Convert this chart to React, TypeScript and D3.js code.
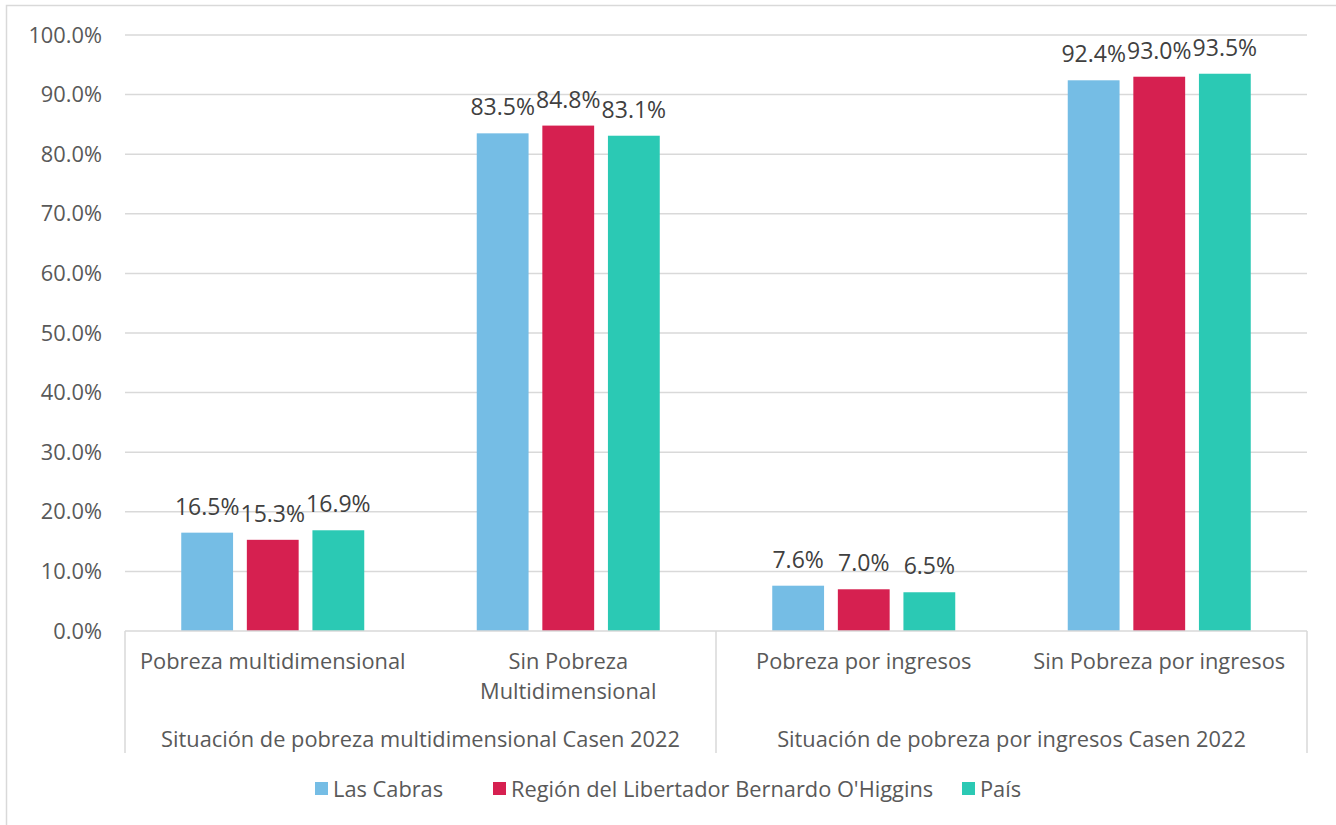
import React from "react";
import * as d3 from "d3";

const categories = [
  ["Pobreza multidimensional"],
  ["Sin Pobreza", "Multidimensional"],
  ["Pobreza por ingresos"],
  ["Sin Pobreza por ingresos"],
];
const groups = [
  "Situación de pobreza multidimensional Casen 2022",
  "Situación de pobreza por ingresos Casen 2022",
];
const seriesNames = ["Las Cabras", "Región del Libertador Bernardo O'Higgins", "País"];
const lasCabras = [16.5, 83.5, 7.6, 92.4];
const region = [15.3, 84.8, 7.0, 93.0];
const pais = [16.9, 83.1, 6.5, 93.5];
const yTicks = [0, 10, 20, 30, 40, 50, 60, 70, 80, 90, 100];
const colors = ["#75BDE5", "#D62050", "#2BC9B4"];

export default function App() {
  const W = 1336, H = 825;
  const left = 125, right = 1307, top = 35, bottom = 631;
  const font = "'Open Sans', 'Noto Sans', sans-serif";
  const textColor = "#595959";
  const series = [lasCabras, region, pais];
  const y = d3.scaleLinear().domain([0, 100]).range([bottom, top]);
  const x0 = d3.scaleBand().domain(categories.map((_, i) => String(i))).range([left, right]).paddingInner(0).paddingOuter(0);
  const bw = x0.bandwidth();
  const groupInner = 183;
  const x1 = d3.scaleBand().domain(["0", "1", "2"]).range([0, groupInner]).paddingInner(0.21).paddingOuter(0);
  const fs = 21.8;

  const legendItems = [
    { sx: 315, tx: 333 },
    { sx: 493, tx: 511 },
    { sx: 962, tx: 980 },
  ];

  return (
    <svg width={W} height={H} style={{ position: "absolute", left: 0, top: 0, background: "#fff" }} fontFamily={font}>
      <rect x={6.5} y={5.5} width={1340} height={840} fill="#fff" stroke="#D9D9D9" strokeWidth={1.5} />
      {yTicks.map((t) => (
        <g key={t}>
          {t > 0 && <line x1={left} x2={right} y1={y(t)} y2={y(t)} stroke="#D9D9D9" strokeWidth={1.5} />}
          <text x={102} y={y(t)} dy="0.35em" textAnchor="end" fontSize={fs} fill={textColor}>
            {t.toFixed(1)}%
          </text>
        </g>
      ))}
      {categories.map((c, ci) => {
        const cx = (x0(String(ci)) as number) + bw / 2;
        const gx = cx - groupInner / 2;
        return (
          <g key={ci}>
            {series.map((s, si) => {
              const bx = gx + (x1(String(si)) as number);
              const v = s[ci];
              return (
                <g key={si}>
                  <rect x={bx} y={y(v)} width={x1.bandwidth()} height={bottom - y(v)} fill={colors[si]} />
                  <text x={bx + x1.bandwidth() / 2} y={y(v) - 18} textAnchor="middle" fontSize={23} fill="#404040">
                    {v.toFixed(1)}%
                  </text>
                </g>
              );
            })}
            {c.map((line, li) => (
              <text key={li} x={cx} y={661 + li * 30} dy="0.35em" textAnchor="middle" fontSize={fs} fill={textColor}>
                {line}
              </text>
            ))}
          </g>
        );
      })}
      <line x1={left} x2={right} y1={bottom} y2={bottom} stroke="#D9D9D9" strokeWidth={1.5} />
      {[left, (left + right) / 2, right].map((lx, i) => (
        <line key={i} x1={lx} x2={lx} y1={bottom} y2={753} stroke="#D9D9D9" strokeWidth={1.5} />
      ))}
      {groups.map((g, gi) => (
        <text key={gi} x={left + (right - left) / 4 + gi * (right - left) / 2} y={739} dy="0.35em" textAnchor="middle" fontSize={fs} fill={textColor}>
          {g}
        </text>
      ))}
      {seriesNames.map((n, i) => (
        <g key={i}>
          <rect x={legendItems[i].sx} y={782} width={13} height={13} fill={colors[i]} />
          <text x={legendItems[i].tx} y={789} dy="0.35em" fontSize={fs} fill={textColor}>
            {n}
          </text>
        </g>
      ))}
    </svg>
  );
}
